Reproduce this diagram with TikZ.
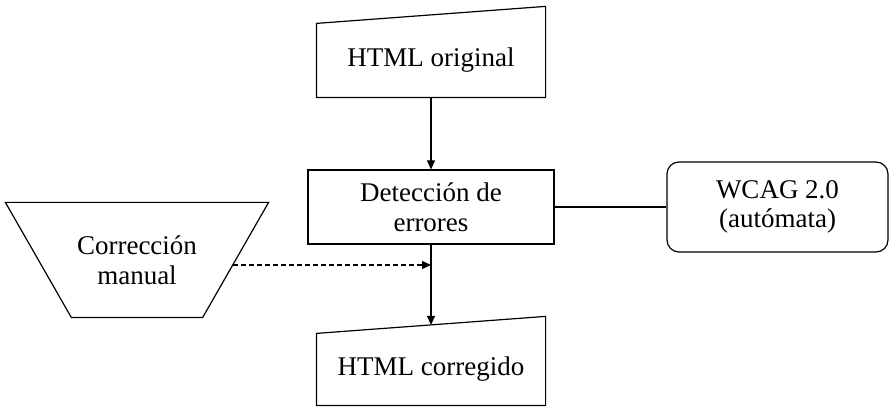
\documentclass[tikz,border=0pt]{standalone}
\usepackage{fontspec}
\setmainfont{Liberation Serif}
\usetikzlibrary{arrows.meta,calc,positioning}

\begin{document}
\begin{tikzpicture}[x=0.5pt,y=0.5pt,
  font=\fontsize{13.5}{14.8}\selectfont,
  line width=0.6pt,
  >={Triangle[length=4.5pt,width=4pt]},
  io/.style={minimum width=114pt, inner sep=0pt, align=center},
  proc/.style={draw, minimum width=123pt, minimum height=37pt, align=center},
  auto/.style={draw, rounded corners=6pt, minimum width=110.5pt, minimum height=45pt, align=center},
  manualop/.style={minimum width=131pt, minimum height=57pt, align=center, inner sep=0pt}]

  \useasboundingbox (0,0) rectangle (890,407);

  % Rise of the top edge of the input boxes, inset of the manual box
  \def\slant{17}
  \def\inset{66}

  % Boxes
  \node[io, minimum height=36.5pt] (orig) at (431,346.5) {HTML original};
  \node[proc] (det) at (431,200) {Detección de\\errores};
  \node[auto] (wcag) at (777.5,200) {WCAG 2.0\\(autómata)};
  \node[manualop] (man) at (137,147) {Corrección\\manual};
  \node[io, minimum height=35.5pt] (corr) at (431,37.5) {HTML corregido};

  % Outline of the input boxes (slanted top)
  \foreach \n in {orig,corr} {
    \draw (\n.north west) -- (\n.south west) -- (\n.south east) -- ($(\n.north east)+(0,\slant)$) -- cycle;
  }
  % Outline of the manual step (trapezium)
  \draw (man.north west) -- (man.north east) -- ($(man.south east)+(-\inset,0)$)
    -- ($(man.south west)+(\inset,0)$) -- cycle;

  \coordinate (corrtop) at ($(corr.north)+(0,\slant/2)$);
  \coordinate (manout) at ($(man.east)+(-\inset/2-3,-5)$);
  \coordinate (join) at (det.south |- manout);

  % Connectors
  \draw[->] (orig.south) -- (det.north);
  \draw (det.east) -- (wcag.west);
  \draw[->] (det.south) -- (corrtop);
  \draw[->, dash pattern=on 2.5pt off 1.5pt] (manout) -- (join);
\end{tikzpicture}
\end{document}
